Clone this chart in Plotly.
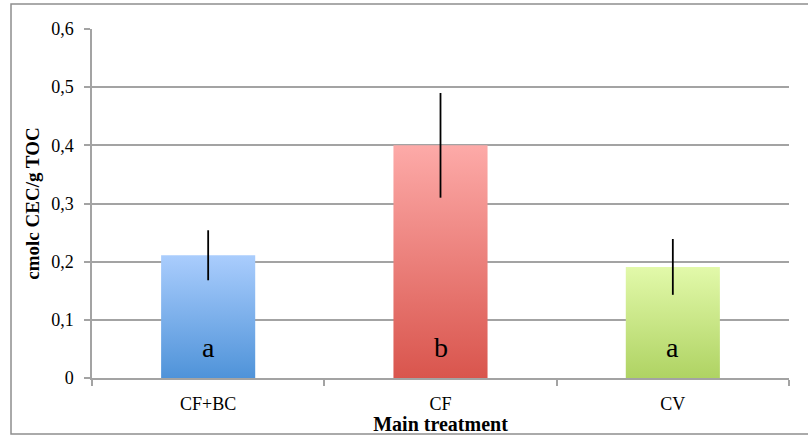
import plotly.graph_objects as go

categories = ["CF+BC", "CF", "CV"]
values = [0.211, 0.400, 0.191]
errors = [0.043, 0.090, 0.048]
letters = ["a", "b", "a"]
top_colors = ["#aacdfd", "#fdaaa8", "#e2f9aa"]
bottom_colors = ["#4f93d9", "#d9554d", "#afd363"]
y_ticks = [0, 0.1, 0.2, 0.3, 0.4, 0.5, 0.6]

BAR_W = 0.405
GRID = "#a3a3a3"
FONT = "Liberation Serif"

fig = go.Figure()

for i, (v, tc, bc) in enumerate(zip(values, top_colors, bottom_colors)):
    x0, x1 = i - BAR_W / 2, i + BAR_W / 2
    fig.add_trace(go.Scatter(
        x=[x0, x1, x1, x0, x0],
        y=[0, 0, v, v, 0],
        mode="lines",
        fill="toself",
        fillgradient=dict(type="vertical", colorscale=[[0, bc], [1, tc]]),
        line=dict(width=0),
        hoverinfo="skip",
        showlegend=False,
    ))

fig.add_trace(go.Scatter(
    x=list(range(len(categories))),
    y=values,
    mode="markers",
    marker=dict(size=1, opacity=0),
    error_y=dict(type="data", array=errors, visible=True, width=0,
                 thickness=1.8, color="black"),
    showlegend=False,
))

for i, t in enumerate(letters):
    fig.add_annotation(x=i, y=0, xref="x", yref="y", text=t, showarrow=False,
                       yanchor="bottom", yshift=13,
                       font=dict(family=FONT, size=28, color="black"))

# outer chart border
fig.add_shape(type="rect", xref="paper", yref="paper",
              x0=-0.1162, x1=1.05, y0=-0.1605, y1=1.0716,
              line=dict(color="#8e8e8e", width=1.5), layer="below")

fig.update_layout(
    width=808, height=435,
    margin=dict(l=92, r=19, t=29, b=57, autoexpand=False),
    paper_bgcolor="white", plot_bgcolor="white",
    separators=", ",
    font=dict(family=FONT, size=18, color="black"),
    xaxis=dict(
        range=[-0.5, len(categories) - 0.5],
        tickmode="array",
        tickvals=list(range(len(categories))),
        ticktext=categories,
        ticks="",
        ticklabelstandoff=9,
        showgrid=False, zeroline=False,
        showline=True, linecolor=GRID, linewidth=1.5,
        minor=dict(tickmode="array",
                   tickvals=[k - 0.5 for k in range(len(categories) + 1)],
                   ticks="outside", ticklen=6, tickwidth=1.5, tickcolor=GRID,
                   showgrid=False),
        title=dict(text="<b>Main treatment</b>", standoff=2,
                   font=dict(family=FONT, size=20)),
        fixedrange=True,
    ),
    yaxis=dict(
        range=[0, 0.6],
        tickmode="array",
        tickvals=y_ticks,
        ticks="outside", ticklen=6, tickwidth=1.5, tickcolor=GRID,
        ticklabelstandoff=7,
        showgrid=True, gridcolor=GRID, gridwidth=1.5,
        zeroline=False,
        showline=True, linecolor=GRID, linewidth=1.5,
        title=dict(text="<b>cmolc CEC/g TOC</b>", standoff=7,
                   font=dict(family=FONT, size=19)),
        fixedrange=True,
    ),
)

fig.write_html("out.html", config={"displayModeBar": False},
               post_script="document.body.style.margin='0px';")
